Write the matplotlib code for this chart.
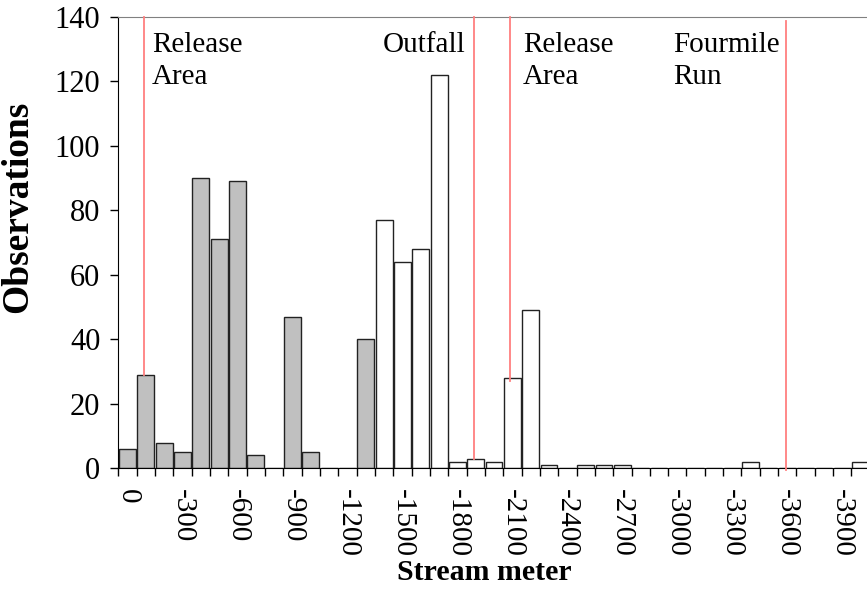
import matplotlib as mpl
import matplotlib.pyplot as plt
import numpy as np

mpl.use("Agg")
plt.rcParams["font.family"] = ["Liberation Serif", "DejaVu Serif"]

# observations per 100 m stream bin, 0 down to -4000 m
stream_m = np.arange(0, -4001, -100)
counts = [6, 29, 8, 5, 90, 71, 89, 4, 0, 47, 5, 0, 0, 40, 77, 64, 68, 122,
          2, 3, 2, 28, 49, 1, 0, 1, 1, 1, 0, 0, 0, 0, 0, 0, 2, 0, 0, 0, 0, 0, 2]
n_upstream = 14  # first bins drawn shaded

# site markers, in bin-index units, with the count where each line stops
site_pos = [0.89, 18.89, 20.85, 35.92]
site_ymin = [29, 3, 27, -0.6]
site_ymax = [140, 140, 140, 138.7]
site_labels = ["Release\nArea", "Outfall", "Release\nArea", "Fourmile\nRun"]
label_pos = [1.34, 13.95, 21.57, 29.76]

fig = plt.figure(figsize=(8.67, 5.92), dpi=100)
ax = fig.add_axes([0.1365, 0.2089, 0.8667, 0.7629])

x = np.arange(len(counts))
colors = ["#c0c0c0" if i < n_upstream else "white" for i in x]
ax.bar(x, counts, width=0.92, color=colors, edgecolor="#222222", linewidth=1.0, zorder=2)

for xp, y0, y1 in zip(site_pos, site_ymin, site_ymax):
    ax.plot([xp, xp], [y0, y1], color="#ff7f7f", linewidth=1.3, zorder=3, clip_on=False)
for xp, lab in zip(label_pos, site_labels):
    ax.text(xp, 135.4, lab, ha="left", va="top", fontsize=21, linespacing=1.3)

ax.set_xlim(-0.5, len(counts) - 0.5)
ax.set_ylim(0, 140)
ax.set_yticks(np.arange(0, 141, 20))

# tick marks on bin edges, labels on every third bin centre
ax.set_xticks(np.arange(-0.5, len(counts), 1))
ax.set_xticklabels([])
ax.set_xticks(x[::3], [str(v) for v in stream_m[::3]], minor=True)
ax.tick_params(axis="x", which="major", direction="out", length=6, width=1)
ax.tick_params(axis="x", which="minor", length=0, pad=15, labelsize=21, labelrotation=-90)
ax.tick_params(axis="y", direction="out", length=6, width=1, pad=7, labelsize=22)

ax.spines["right"].set_visible(False)
ax.spines["top"].set_color("#808080")
for s in ["left", "bottom"]:
    ax.spines[s].set_color("black")

ax.set_ylabel("Observations", fontsize=27, fontweight="bold")
ax.yaxis.set_label_coords(-0.111, 0.579)
ax.set_xlabel("Stream meter", fontsize=21.5, fontweight="bold")
ax.xaxis.set_label_coords(0.4873, -0.2)

fig.savefig("out.png", dpi=100)
plt.close(fig)
